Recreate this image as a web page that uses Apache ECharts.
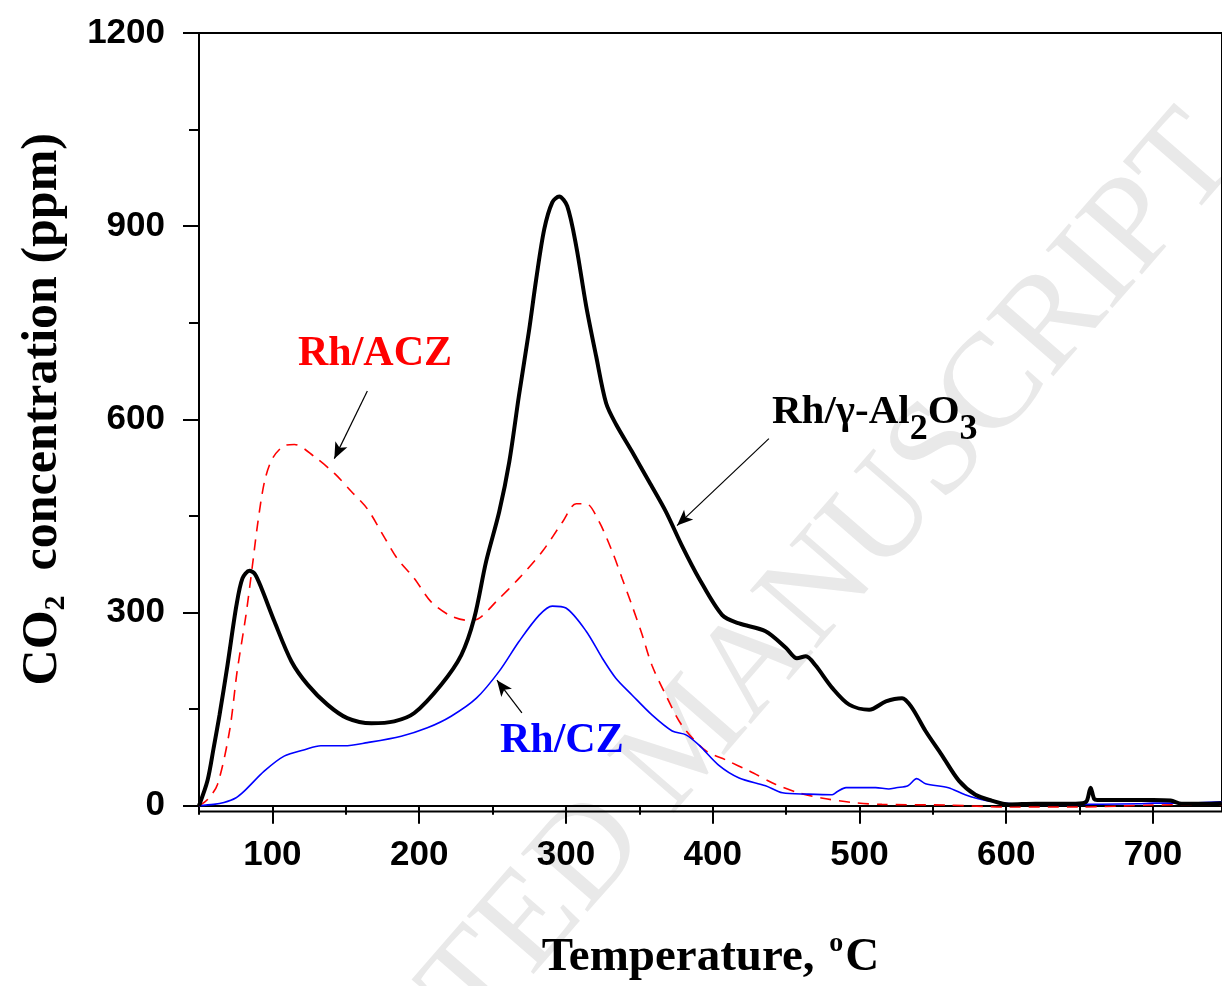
<!DOCTYPE html>
<html>
<head>
    <meta charset="utf-8">
    <script src="https://cdn.jsdelivr.net/npm/echarts@6.0.0/dist/echarts.min.js"></script>
</head>
<body style="margin:0">
    <div id="main" style="width: 1222px;height:986px;"></div>
    <script type="text/javascript">

// Rh/gamma-Al2O3 (black, thick)
var alTemp = [50, 55.8, 60, 64, 69.4, 75.5, 79.6, 84.4, 88, 92.5, 101.4, 113, 124, 137.5, 151, 167.5, 183, 196.7, 215, 228.7, 237.5, 245.6, 254.5, 261.4, 268, 275, 279.7, 285.2, 290.7, 295.4, 300.9, 307, 313.8, 320.6, 327.4, 334.2, 345, 356.7, 368, 379, 390.7, 406.5, 418, 436, 450, 457.4, 463.5, 470, 481.4, 493, 506.6, 518, 529, 535.8, 545, 556, 567.7, 579, 590, 601.7, 620, 640, 652, 655, 657.5, 660, 662, 680, 700, 712, 719.5, 735, 747];
var alCo2 = [0, 39, 90, 141, 218, 311, 353, 365, 360, 338, 286, 224, 188, 157, 136, 128, 131, 144, 188, 234, 291, 379, 456, 534, 637, 740, 817, 895, 937, 946, 931, 869, 776, 698, 625, 592, 550, 503, 457, 404, 353, 296, 283, 271, 245, 229, 232, 218, 183, 157, 149, 162, 167, 152, 116, 79, 39, 17, 8, 2, 3, 3, 4, 8, 28, 10, 9, 9, 9, 8, 3, 3, 4];

// Rh/ACZ (red, dashed)
var aczTemp = [50, 56, 62.6, 70.8, 76, 82, 86.4, 89.8, 94.6, 100, 108, 115, 128.6, 142.3, 153.8, 164.7, 176, 185, 196.7, 208, 220.5, 232.8, 240, 252.5, 268, 284, 297.8, 307, 313.8, 322.6, 331.5, 338.3, 345, 352, 358.6, 368, 379, 395.5, 409, 424.8, 443, 458.6, 474, 495, 515.3, 560, 600, 650, 700, 747];
var aczCo2 = [0, 10, 33, 116, 209, 296, 373, 435, 503, 539, 559, 561, 542, 516, 488, 461, 418, 384, 353, 317, 296, 288, 290, 317, 353, 395, 441, 469, 469, 441, 395, 353, 311, 265, 218, 172, 125, 85, 71, 54, 33, 20, 12, 5, 2, 1, -2, -2, 1, 2];

// Rh/CZ (blue, thin)
var czTemp = [50, 60, 67, 75, 81, 94.6, 108, 122, 133, 149, 164.7, 187.8, 205.6, 221.8, 239, 254.6, 268, 281.8, 290.7, 300, 313.8, 324.8, 334, 345, 358.6, 372.4, 381.8, 390.7, 404, 418, 436, 447.5, 465, 481.4, 485, 490.8, 511, 520, 525, 533, 539, 545, 560.6, 572, 586, 604, 640, 690, 700, 720, 747];
var czCo2 = [0, 2, 5, 12, 23, 54, 77, 87, 93, 93, 98, 108, 121, 139, 167, 209, 255, 296, 310, 307, 271, 229, 198, 172, 141, 116, 110, 94, 63, 43, 31, 20, 18, 17, 22, 28, 28, 26, 28, 31, 42, 34, 28, 17, 8, 3, 2, 3, 4, 4, 6];

var xLabels = [100, 200, 300, 400, 500, 600, 700];
var xMinor = [50, 150, 250, 350, 450, 550, 650];
var yLabels = [0, 300, 600, 900, 1200];
var yMinor = [150, 450, 750, 1050];

function pairs(xs, ys) {
    return xs.map(function (x, i) { return [x, ys[i]]; });
}

var serif = '"Liberation Serif", "Times New Roman", serif';
var sans = '"Liberation Sans", Arial, sans-serif';
var tickFont = {
    fontFamily: sans, fontWeight: 'bold', fontSize: 35, color: '#000',
    formatter: function (v) { return String(v); }
};

var arrowStyle = {
    silent: true,
    symbol: ['none', 'arrow'],
    symbolSize: [10, 16],
    label: { show: false },
    lineStyle: { color: '#000', width: 1.2, type: 'solid' },
    emphasis: { disabled: true }
};

option = {
    animation: false,
    backgroundColor: '#fff',
    grid: {
        left: 199, right: -4, top: 33, bottom: 172,
        show: true, borderColor: '#000', borderWidth: 2
    },
    xAxis: [{
        type: 'value', min: 50, max: 747, position: 'bottom',
        axisLine: { lineStyle: { color: '#000', width: 2 } },
        axisTick: { customValues: xLabels, length: 18, lineStyle: { color: '#000', width: 2 } },
        axisLabel: Object.assign({ customValues: xLabels, margin: 26 }, tickFont),
        splitLine: { show: false },
        name: '{a|Temperature, }{p|o}{a|C}',
        nameLocation: 'middle',
        nameGap: 118,
        nameTextStyle: {
            rich: {
                a: { fontFamily: serif, fontWeight: 'bold', fontSize: 47, color: '#000' },
                p: { fontFamily: serif, fontWeight: 'bold', fontSize: 28, color: '#000', padding: [0, 2, 28, 3] }
            }
        }
    }, {
        type: 'value', min: 50, max: 747, position: 'bottom',
        axisLine: { show: false },
        axisTick: { customValues: xMinor, length: 9, lineStyle: { color: '#000', width: 2 } },
        axisLabel: { show: false },
        splitLine: { show: false }
    }],
    yAxis: [{
        type: 'value', min: -9, max: 1200, position: 'left',
        axisLine: { lineStyle: { color: '#000', width: 2 } },
        axisTick: { customValues: yLabels, length: 16, lineStyle: { color: '#000', width: 2 } },
        axisLabel: Object.assign({ customValues: yLabels, margin: 34 }, tickFont),
        splitLine: { show: false },
        name: '{a|CO}{s|2}{a|  concentration (ppm)}',
        nameLocation: 'middle',
        nameGap: 128,
        nameTextStyle: {
            padding: [0, 0, 0, 26],
            rich: {
                a: { fontFamily: serif, fontWeight: 'bold', fontSize: 50, color: '#000' },
                s: { fontFamily: serif, fontWeight: 'bold', fontSize: 30, color: '#000', padding: [26, 0, 0, 0] }
            }
        }
    }, {
        type: 'value', min: -9, max: 1200, position: 'left',
        axisLine: { show: false },
        axisTick: { customValues: yMinor, length: 10, lineStyle: { color: '#000', width: 2 } },
        axisLabel: { show: false },
        splitLine: { show: false }
    }],
    graphic: [{
        type: 'text', x: 690, y: 740, rotation: 0.855, z: -1, silent: true,
        style: {
            text: 'ACCEPTED MANUSCRIPT', fill: '#e9e9e9',
            font: '135px "Liberation Serif"', textAlign: 'center', textVerticalAlign: 'middle'
        }
    }, {
        type: 'text', left: 298, top: 333, silent: true,
        style: { text: 'Rh/ACZ', fill: '#ff0000', font: 'bold 42px "Liberation Serif"' }
    }, {
        type: 'text', left: 500, top: 720, silent: true,
        style: { text: 'Rh/CZ', fill: '#0000ff', font: 'bold 42px "Liberation Serif"' }
    }, {
        type: 'text', left: 772, top: 392, silent: true,
        style: {
            text: '{a|Rh/γ-Al}{s|2}{a|O}{s|3}',
            rich: {
                a: { fontFamily: serif, fontWeight: 'bold', fontSize: 41, fill: '#000' },
                s: { fontFamily: serif, fontWeight: 'bold', fontSize: 36, fill: '#000', padding: [34, 0, 0, 0] }
            }
        }
    }],
    series: [{
        name: 'Rh/ACZ', type: 'line', symbol: 'none', smooth: 0.3,
        lineStyle: { color: '#ff0000', width: 1.6, type: [11, 8] },
        data: pairs(aczTemp, aczCo2),
        markLine: Object.assign({ data: [[{ coord: [164.7, 644] }, { coord: [142.2, 539] }]] }, arrowStyle)
    }, {
        name: 'Rh/CZ', type: 'line', symbol: 'none', smooth: 0.3,
        lineStyle: { color: '#0000ff', width: 1.6 },
        data: pairs(czTemp, czCo2),
        markLine: Object.assign({ data: [[{ coord: [270, 144] }, { coord: [253, 195] }]] }, arrowStyle)
    }, {
        name: 'Rh/γ-Al2O3', type: 'line', symbol: 'none', smooth: 0.3,
        lineStyle: { color: '#000', width: 4 },
        data: pairs(alTemp, alCo2),
        markLine: Object.assign({ data: [[{ coord: [438.3, 570] }, { coord: [375.7, 435] }]] }, arrowStyle)
    }]
};

var myChart = echarts.init(document.getElementById('main'));
myChart.setOption(option);

    </script>
</body>
</html>
